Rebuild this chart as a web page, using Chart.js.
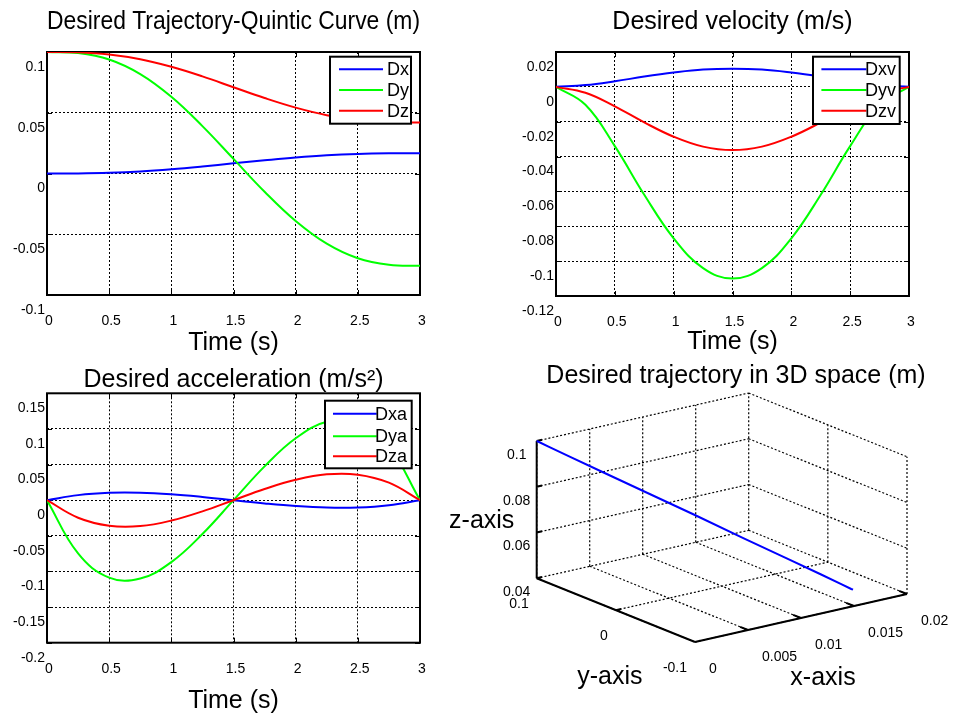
<!DOCTYPE html>
<html>
<head>
<meta charset="utf-8">
<title>Desired trajectory</title>
<script src="https://cdn.jsdelivr.net/npm/chart.js@4.4.1/dist/chart.umd.min.js"></script>
<style>
  html, body { margin: 0; padding: 0; background: #ffffff; }
  #figure { position: relative; width: 954px; height: 716px; overflow: hidden; background: #ffffff; }
  #figure canvas { position: absolute; }
</style>
</head>
<body>
<div id="figure">
  <canvas id="posChart" width="477" height="358" style="left:0px;top:0px"></canvas>
  <canvas id="velChart" width="477" height="358" style="left:477px;top:0px"></canvas>
  <canvas id="accChart" width="477" height="358" style="left:0px;top:358px"></canvas>
  <canvas id="pathChart" width="524" height="358" style="left:430px;top:358px"></canvas>
</div>
<script>
var time = [0, 0.25, 0.5, 0.75, 1, 1.25, 1.5, 1.75, 2, 2.25, 2.5, 2.75, 3];

// position (m)
var dx = [0, 0.0001, 0.0006, 0.0017, 0.0035, 0.0058, 0.0084, 0.0109, 0.0132, 0.0150, 0.0161, 0.0166, 0.0167];
var dy = [0.1, 0.0991, 0.0938, 0.0818, 0.0631, 0.0390, 0.0120, -0.0150, -0.0391, -0.0578, -0.0698, -0.0751, -0.0760];
var dz = [0.1, 0.0997, 0.0979, 0.0940, 0.0878, 0.0799, 0.0710, 0.0621, 0.0542, 0.0480, 0.0441, 0.0423, 0.0420];

// velocity (m/s)
var dxv = [0, 0.0010, 0.0032, 0.0059, 0.0082, 0.0099, 0.0104, 0.0099, 0.0082, 0.0059, 0.0032, 0.0010, 0];
var dyv = [0, -0.0103, -0.0340, -0.0619, -0.0869, -0.1040, -0.1100, -0.1040, -0.0869, -0.0619, -0.0340, -0.0103, 0];
var dzv = [0, -0.0034, -0.0112, -0.0204, -0.0286, -0.0343, -0.0363, -0.0343, -0.0286, -0.0204, -0.0112, -0.0034, 0];

// acceleration (m/s^2)
var dxa = [0, 0.0071, 0.0103, 0.0104, 0.0082, 0.0045, 0, -0.0045, -0.0082, -0.0104, -0.0103, -0.0071, 0];
var dya = [0, -0.0747, -0.1086, -0.1100, -0.0869, -0.0475, 0, 0.0475, 0.0869, 0.1100, 0.1086, 0.0747, 0];
var dza = [0, -0.0246, -0.0358, -0.0363, -0.0286, -0.0157, 0, 0.0157, 0.0286, 0.0363, 0.0358, 0.0246, 0];

var timeTicks = [0, 0.5, 1, 1.5, 2, 2.5, 3];
var posTicks = [-0.1, -0.05, 0, 0.05, 0.1];
var velTicks = [-0.12, -0.1, -0.08, -0.06, -0.04, -0.02, 0, 0.02];
var accTicks = [-0.2, -0.15, -0.1, -0.05, 0, 0.05, 0.1, 0.15];

// 3D axes
var xTicks3 = [0, 0.005, 0.01, 0.015, 0.02];
var yTicks3 = [-0.1, 0, 0.1];
var zTicks3 = [0.04, 0.06, 0.08, 0.1];

var FONT = '"Liberation Sans", Arial, Helvetica, sans-serif';
var BLUE = 'rgb(0,0,255)', GREEN = 'rgb(0,255,0)', RED = 'rgb(255,0,0)';
var DOTS = [2, 2];

Chart.defaults.font.family = FONT;
Chart.defaults.font.size = 14;
Chart.defaults.color = '#000';
Chart.defaults.animation = false;

function line(label, values, color, order) {
  return {
    label: label,
    data: values.map(function (v, i) { return { x: time[i], y: v }; }),
    borderColor: color,
    borderWidth: 2,
    pointRadius: 0,
    tension: 0.4,
    fill: false,
    order: order
  };
}

function fixedTicks(list) {
  return function (scale) {
    scale.ticks = list.map(function (v) { return { value: v }; });
  };
}

// solid frame and inward tick marks, under the curves
var axesBox = {
  id: 'axesBox',
  beforeDatasetsDraw: function (chart) {
    var a = chart.chartArea, ctx = chart.ctx, sx = chart.scales.x, sy = chart.scales.y;
    ctx.save();
    ctx.strokeStyle = '#000';
    ctx.lineWidth = 1;
    ctx.beginPath();
    sx.ticks.forEach(function (t) {
      var px = Math.round(sx.getPixelForValue(t.value)) + 0.5;
      ctx.moveTo(px, a.top); ctx.lineTo(px, a.top + 5);
      ctx.moveTo(px, a.bottom); ctx.lineTo(px, a.bottom - 5);
    });
    sy.ticks.forEach(function (t) {
      var py = Math.round(sy.getPixelForValue(t.value)) + 0.5;
      ctx.moveTo(a.left, py); ctx.lineTo(a.left + 5, py);
      ctx.moveTo(a.right, py); ctx.lineTo(a.right - 5, py);
    });
    ctx.stroke();
    ctx.lineWidth = 2;
    ctx.strokeRect(a.left, a.top, a.right - a.left, a.bottom - a.top);
    ctx.restore();
  }
};

// boxed legend in the upper right of the axes
var boxLegend = {
  id: 'boxLegend',
  afterDatasetsDraw: function (chart, args, opts) {
    var a = chart.chartArea, ctx = chart.ctx;
    var x0 = a.right - opts.right - opts.width, y0 = a.top + opts.top;
    ctx.save();
    ctx.fillStyle = '#fff';
    ctx.fillRect(x0, y0, opts.width, opts.height);
    ctx.lineWidth = 2;
    ctx.strokeStyle = '#000';
    ctx.strokeRect(x0, y0, opts.width, opts.height);
    ctx.font = '18px ' + FONT;
    ctx.textBaseline = 'middle';
    chart.data.datasets.forEach(function (ds, i) {
      var y = y0 + opts.rows[i];
      ctx.strokeStyle = ds.borderColor;
      ctx.beginPath();
      ctx.moveTo(x0 + opts.lineStart, y);
      ctx.lineTo(x0 + opts.lineEnd, y);
      ctx.stroke();
      ctx.fillStyle = '#000';
      ctx.fillText(ds.label, x0 + opts.textX, y + 1);
    });
    ctx.restore();
  }
};

function timeChart(id, title, datasets, yTicks, lay) {
  return new Chart(document.getElementById(id), {
    type: 'line',
    data: { datasets: datasets },
    plugins: [axesBox, boxLegend],
    options: {
      responsive: false,
      layout: { padding: { left: 0, right: lay.padRight, top: 0, bottom: 0 } },
      plugins: {
        legend: { display: false },
        tooltip: { enabled: false },
        title: {
          display: true, text: title, fullSize: false, color: '#000',
          font: { size: 25, weight: 'normal', lineHeight: 1 },
          padding: { top: lay.titleTop, bottom: lay.titleBottom }
        },
        boxLegend: lay.legend
      },
      scales: {
        x: {
          type: 'linear',
          min: timeTicks[0],
          max: timeTicks[timeTicks.length - 1],
          afterBuildTicks: fixedTicks(timeTicks),
          afterFit: function (s) { s.height = lay.xAxisH; },
          ticks: { autoSkip: false, maxRotation: 0, padding: 18, labelOffset: 2,
                   callback: function (v) { return String(v); } },
          grid: { color: '#000', lineWidth: 1, drawTicks: false },
          border: { display: false, dash: DOTS },
          title: { display: true, text: 'Time (s)', font: { size: 25 },
                   padding: { top: 0, bottom: lay.xTitleBottom } }
        },
        y: {
          type: 'linear',
          min: yTicks[0],
          max: yTicks[yTicks.length - 1],
          afterBuildTicks: fixedTicks(yTicks),
          afterFit: function (s) { s.width = lay.yAxisW; },
          ticks: { autoSkip: false, padding: 2, labelOffset: 15,
                   callback: function (v) { return String(v); } },
          grid: { color: '#000', lineWidth: 1, drawTicks: false },
          border: { display: false, dash: DOTS }
        }
      }
    }
  });
}

timeChart('posChart', 'Desired Trajectory-Quintic Curve (m)',
  [line('Dx', dx, BLUE, 2), line('Dy', dy, GREEN, 1), line('Dz', dz, RED, 0)],
  posTicks,
  { padRight: 57, yAxisW: 47, xAxisH: 63, titleTop: 10, titleBottom: 17, xTitleBottom: 0,
    legend: { right: 9, top: 4.7, width: 81, height: 67, lineStart: 9, lineEnd: 53, textX: 57, rows: [12.6, 33.3, 54] } });

timeChart('velChart', 'Desired velocity (m/s)',
  [line('Dxv', dxv, BLUE, 2), line('Dyv', dyv, GREEN, 1), line('Dzv', dzv, RED, 0)],
  velTicks,
  { padRight: 45, yAxisW: 79, xAxisH: 62, titleTop: 10, titleBottom: 17, xTitleBottom: 1,
    legend: { right: 9.3, top: 4.7, width: 86.7, height: 67.3, lineStart: 8.4, lineEnd: 53.4, textX: 52, rows: [12.6, 33.3, 54] } });

timeChart('accChart', 'Desired acceleration (m/s²)',
  [line('Dxa', dxa, BLUE, 2), line('Dya', dya, GREEN, 1), line('Dza', dza, RED, 0)],
  accTicks,
  { padRight: 57, yAxisW: 47, xAxisH: 73.3, titleTop: 9.5, titleBottom: 0.8, xTitleBottom: 0,
    legend: { right: 8.3, top: 7.4, width: 86.7, height: 67.6, lineStart: 8, lineEnd: 51.7, textX: 50, rows: [13, 35.5, 55.5] } });

// ---- 3D view: orthographic projection onto page pixels ----
var xLim3 = [xTicks3[0], xTicks3[xTicks3.length - 1]];
var yLim3 = [yTicks3[0], yTicks3[yTicks3.length - 1]];
var zLim3 = [zTicks3[0], zTicks3[zTicks3.length - 1]];

// corner (x min, y max, z min) and pixels per unit along each axis
var view = { left: 536.7, top: 578.3, ex: [10600, -2400], ey: [-791.5, -318.5], ez: [0, -2288.3] };

function project(x, y, z) {
  var u = x - xLim3[0], v = y - yLim3[1], w = z - zLim3[0];
  return {
    x: view.left + u * view.ex[0] + v * view.ey[0] + w * view.ez[0],
    y: view.top + u * view.ex[1] + v * view.ey[1] + w * view.ez[1]
  };
}

function segments(list) {
  var pts = [];
  list.forEach(function (s) {
    pts.push(project(s[0], s[1], s[2]), project(s[3], s[4], s[5]), { x: null, y: null });
  });
  return pts;
}

var gridSegs = [];
xTicks3.forEach(function (x) {
  gridSegs.push([x, yLim3[1], zLim3[0], x, yLim3[1], zLim3[1]]);
  gridSegs.push([x, yLim3[1], zLim3[0], x, yLim3[0], zLim3[0]]);
});
yTicks3.forEach(function (y) {
  gridSegs.push([xLim3[1], y, zLim3[0], xLim3[1], y, zLim3[1]]);
  gridSegs.push([xLim3[0], y, zLim3[0], xLim3[1], y, zLim3[0]]);
});
zTicks3.forEach(function (z) {
  gridSegs.push([xLim3[0], yLim3[1], z, xLim3[1], yLim3[1], z]);
  gridSegs.push([xLim3[1], yLim3[1], z, xLim3[1], yLim3[0], z]);
});

var axisSegs = [
  [xLim3[0], yLim3[1], zLim3[0], xLim3[0], yLim3[1], zLim3[1]],
  [xLim3[0], yLim3[1], zLim3[0], xLim3[0], yLim3[0], zLim3[0]],
  [xLim3[0], yLim3[0], zLim3[0], xLim3[1], yLim3[0], zLim3[0]]
];
zTicks3.forEach(function (z) { axisSegs.push([xLim3[0], yLim3[1], z, xLim3[0] + 0.0005, yLim3[1], z]); });
yTicks3.forEach(function (y) { axisSegs.push([xLim3[0], y, zLim3[0], xLim3[0] + 0.0005, y, zLim3[0]]); });
xTicks3.forEach(function (x) { axisSegs.push([x, yLim3[0], zLim3[0], x, yLim3[0] + 0.01, zLim3[0]]); });

var path3 = dx.map(function (v, i) { return project(v, dy[i], dz[i]); });

var axisText3d = {
  id: 'axisText3d',
  afterDatasetsDraw: function (chart) {
    var ctx = chart.ctx, sx = chart.scales.x, sy = chart.scales.y;
    function put(p, ox, oy, text, align, size) {
      ctx.font = size + 'px ' + FONT;
      ctx.textAlign = align;
      ctx.fillText(text, sx.getPixelForValue(p.x) + ox, sy.getPixelForValue(p.y) + oy);
    }
    ctx.save();
    ctx.fillStyle = '#000';
    ctx.textBaseline = 'middle';
    zTicks3.forEach(function (z) { put(project(xLim3[0], yLim3[1], z), -20, 14, String(z), 'center', 14); });
    yTicks3.forEach(function (y) { put(project(xLim3[0], y, zLim3[0]), -8, 26, String(y), 'right', 14); });
    xTicks3.forEach(function (x) { put(project(x, yLim3[0], zLim3[0]), 14, 27, String(x), 'left', 14); });
    put(project(xLim3[0], yLim3[1], 0.07), -55, 11, 'z-axis', 'center', 25);
    put(project(xLim3[0], 0, zLim3[0]), -6, 67, 'y-axis', 'center', 25);
    put(project(0.01, yLim3[0], zLim3[0]), 22, 60, 'x-axis', 'center', 25);
    ctx.restore();
  }
};

// canvas sits at page (430, 358); scales map page pixels onto the chart area
var PAGE_LEFT = 430, PAGE_TOP = 358, PAD_LEFT = 88, TITLE_H = 30.5;

new Chart(document.getElementById('pathChart'), {
  type: 'scatter',
  data: {
    datasets: [
      { label: 'trajectory', data: path3, showLine: true, borderColor: BLUE, borderWidth: 2, pointRadius: 0, clip: false },
      { label: 'axes', data: segments(axisSegs), showLine: true, borderColor: '#000', borderWidth: 2, pointRadius: 0, clip: false },
      { label: 'grid', data: segments(gridSegs), showLine: true, borderColor: '#000', borderWidth: 1.2, borderDash: DOTS, pointRadius: 0, clip: false }
    ]
  },
  plugins: [axisText3d],
  options: {
    responsive: false,
    layout: { padding: { left: PAD_LEFT, right: 0, top: 0, bottom: 0 } },
    plugins: {
      legend: { display: false },
      tooltip: { enabled: false },
      title: {
        display: true, text: 'Desired trajectory in 3D space (m)', fullSize: false, color: '#000',
        font: { size: 25, weight: 'normal', lineHeight: 1 },
        padding: { top: 5.5, bottom: 0 }
      }
    },
    scales: {
      x: { type: 'linear', display: false, min: PAGE_LEFT + PAD_LEFT, max: PAGE_LEFT + 524 },
      y: { type: 'linear', display: false, reverse: true, min: PAGE_TOP + TITLE_H, max: PAGE_TOP + 358 }
    }
  }
});
</script>
</body>
</html>
